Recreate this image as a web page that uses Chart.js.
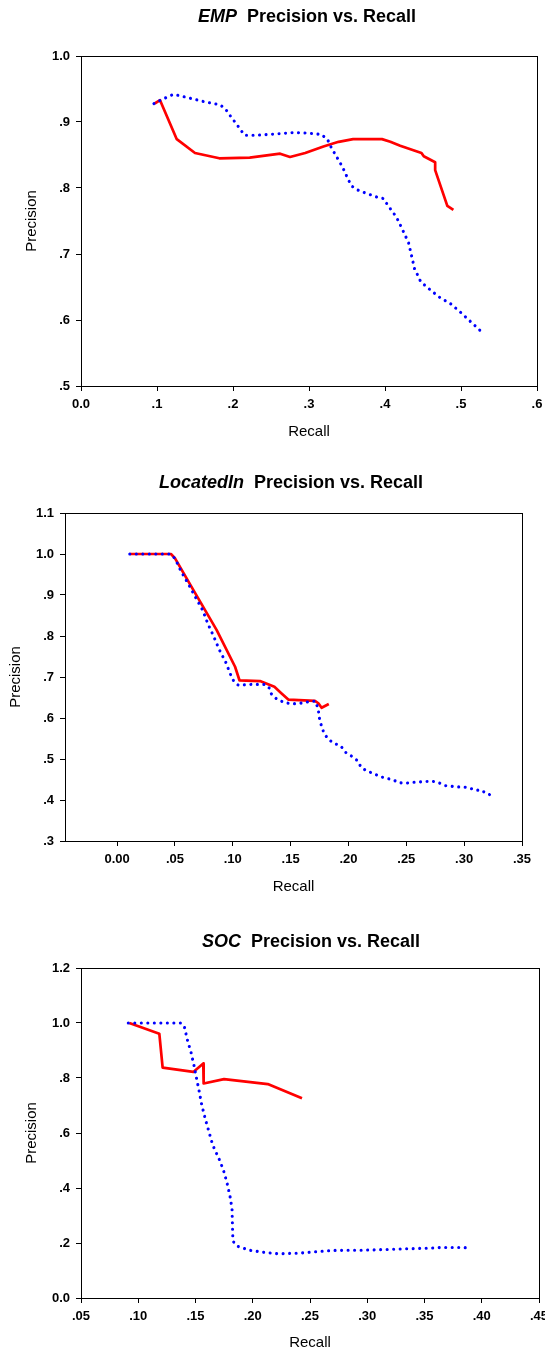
<!DOCTYPE html>
<html>
<head>
<meta charset="utf-8">
<script src="https://cdn.jsdelivr.net/npm/chart.js@4.4.1/dist/chart.umd.min.js"></script>
<style>
  body { margin: 0; width: 545px; height: 1357px; overflow: hidden; background: #fff; position: relative; }
  .panel { position: absolute; left: 0; width: 560px; }
  .panel canvas { position: absolute; left: 0; top: 0; }
  .ttl { position: absolute; width: 400px; text-align: center; white-space: pre;
         font: bold 18px "Liberation Sans", Arial, sans-serif; line-height: 20px; color: #000; z-index: 2; }
</style>
</head>
<body>

<div class="panel" style="top:0;height:460px">
  <canvas id="chart1" width="560" height="460"></canvas>
  <div class="ttl" style="left:107px;top:6px"><i>EMP</i>  Precision vs. Recall</div>
</div>
<div class="panel" style="top:460px;height:460px">
  <canvas id="chart2" width="560" height="460"></canvas>
  <div class="ttl" style="left:91px;top:12px"><i>LocatedIn</i>  Precision vs. Recall</div>
</div>
<div class="panel" style="top:920px;height:437px">
  <canvas id="chart3" width="560" height="437"></canvas>
  <div class="ttl" style="left:111px;top:11px"><i>SOC</i>  Precision vs. Recall</div>
</div>

<script>
// ---- EMP ----
const empRedRecall = [0.097, 0.104, 0.126, 0.150, 0.182, 0.222, 0.262, 0.275, 0.295, 0.319, 0.339, 0.358, 0.374, 0.396, 0.407, 0.420, 0.448, 0.451, 0.466, 0.466, 0.482, 0.490];
const empRedPrecision = [0.928, 0.933, 0.874, 0.853, 0.845, 0.846, 0.852, 0.847, 0.853, 0.863, 0.870, 0.874, 0.874, 0.874, 0.870, 0.864, 0.853, 0.848, 0.839, 0.827, 0.773, 0.767];
const empBlueRecall = [0.096, 0.106, 0.122, 0.140, 0.165, 0.183, 0.190, 0.196, 0.209, 0.215, 0.232, 0.258, 0.280, 0.300, 0.317, 0.325, 0.329, 0.334, 0.344, 0.352, 0.356, 0.364, 0.373, 0.390, 0.398, 0.403, 0.415, 0.423, 0.431, 0.435, 0.439, 0.443, 0.447, 0.456, 0.471, 0.487, 0.501, 0.515, 0.529];
const empBluePrecision = [0.928, 0.934, 0.942, 0.937, 0.930, 0.926, 0.920, 0.910, 0.890, 0.880, 0.880, 0.882, 0.884, 0.883, 0.881, 0.872, 0.862, 0.852, 0.832, 0.812, 0.803, 0.797, 0.793, 0.786, 0.784, 0.775, 0.756, 0.737, 0.717, 0.697, 0.677, 0.668, 0.658, 0.649, 0.635, 0.624, 0.610, 0.595, 0.580];
const empXTicks = [0, 0.1, 0.2, 0.3, 0.4, 0.5, 0.6];
const empXLabels = ['0.0', '.1', '.2', '.3', '.4', '.5', '.6'];
const empYTicks = [0.5, 0.6, 0.7, 0.8, 0.9, 1.0];
const empYLabels = ['.5', '.6', '.7', '.8', '.9', '1.0'];

// ---- LocatedIn ----
const locRedRecall = [0.011, 0.0466, 0.050, 0.066, 0.086, 0.102, 0.1058, 0.1235, 0.136, 0.1422, 0.148, 0.171, 0.174, 0.1768, 0.183];
const locRedPrecision = [1.0, 1.0, 0.990, 0.912, 0.815, 0.725, 0.692, 0.690, 0.676, 0.660, 0.645, 0.642, 0.636, 0.625, 0.634];
const locBlueRecall = [0.011, 0.0457, 0.050, 0.0552, 0.0616, 0.0679, 0.074, 0.0783, 0.0835, 0.0883, 0.0939, 0.0984, 0.101, 0.1048, 0.1163, 0.1278, 0.1316, 0.1333, 0.138, 0.1437, 0.1494, 0.155, 0.161, 0.166, 0.1717, 0.173, 0.1745, 0.1751, 0.1768, 0.1788, 0.1826, 0.1877, 0.1933, 0.1976, 0.2027, 0.2082, 0.2108, 0.2157, 0.2214, 0.2275, 0.233, 0.2387, 0.2439, 0.2497, 0.2555, 0.2667, 0.2724, 0.278, 0.2837, 0.2935, 0.2992, 0.3048, 0.310, 0.3151, 0.3188, 0.3243];
const locBluePrecision = [1.0, 1.0, 0.9895, 0.9585, 0.927, 0.894, 0.863, 0.831, 0.799, 0.767, 0.736, 0.704, 0.689, 0.680, 0.682, 0.682, 0.673, 0.659, 0.646, 0.639, 0.635, 0.635, 0.637, 0.640, 0.641, 0.628, 0.611, 0.595, 0.580, 0.563, 0.548, 0.538, 0.532, 0.516, 0.507, 0.495, 0.480, 0.471, 0.465, 0.457, 0.453, 0.449, 0.442, 0.441, 0.443, 0.445, 0.446, 0.442, 0.435, 0.432, 0.432, 0.429, 0.424, 0.424, 0.416, 0.411];
const locXTicks = [0, 0.05, 0.10, 0.15, 0.20, 0.25, 0.30, 0.35];
const locXLabels = ['0.00', '.05', '.10', '.15', '.20', '.25', '.30', '.35'];
const locYTicks = [0.3, 0.4, 0.5, 0.6, 0.7, 0.8, 0.9, 1.0, 1.1];
const locYLabels = ['.3', '.4', '.5', '.6', '.7', '.8', '.9', '1.0', '1.1'];

// ---- SOC ----
const socRedRecall = [0.0922, 0.1184, 0.1213, 0.1481, 0.1568, 0.1571, 0.1749, 0.2131, 0.243];
const socRedPrecision = [1.0, 0.961, 0.838, 0.822, 0.853, 0.780, 0.796, 0.778, 0.726];
const socBlueRecall = [0.0913, 0.1371, 0.1402, 0.1428, 0.1461, 0.1487, 0.151, 0.1533, 0.1554, 0.1583, 0.1615, 0.1647, 0.167, 0.1699, 0.1743, 0.1775, 0.1801, 0.1819, 0.1822, 0.1825, 0.1828, 0.1871, 0.1926, 0.1982, 0.2097, 0.2218, 0.240, 0.252, 0.270, 0.2976, 0.3279, 0.358, 0.3658, 0.3885];
const socBluePrecision = [1.0, 1.0, 0.988, 0.940, 0.893, 0.845, 0.797, 0.750, 0.703, 0.655, 0.608, 0.561, 0.537, 0.513, 0.466, 0.419, 0.371, 0.324, 0.277, 0.229, 0.206, 0.1875, 0.180, 0.173, 0.166, 0.161, 0.163, 0.167, 0.173, 0.174, 0.178, 0.182, 0.184, 0.183];
const socXTicks = [0.05, 0.10, 0.15, 0.20, 0.25, 0.30, 0.35, 0.40, 0.45];
const socXLabels = ['.05', '.10', '.15', '.20', '.25', '.30', '.35', '.40', '.45'];
const socYTicks = [0, 0.2, 0.4, 0.6, 0.8, 1.0, 1.2];
const socYLabels = ['0.0', '.2', '.4', '.6', '.8', '1.0', '1.2'];

Chart.defaults.font.family = '"Liberation Sans", Arial, sans-serif';
Chart.defaults.color = '#000';

function toPoints(xs, ys) {
    return xs.map((x, i) => ({ x: x, y: ys[i] }));
}

// plain box round the plot area
const frame = {
    id: 'frame',
    beforeDatasetsDraw(chart) {
        const { ctx, chartArea: a } = chart;
        ctx.save();
        ctx.strokeStyle = '#000';
        ctx.lineWidth = 1;
        ctx.strokeRect(Math.round(a.left) + 0.5, Math.round(a.top) + 0.5,
                       Math.round(a.right - a.left), Math.round(a.bottom - a.top));
        ctx.restore();
    }
};

function axis(min, max, ticks, labels, extra) {
    return Object.assign({
        type: 'linear',
        min: min,
        max: max,
        afterBuildTicks: s => { s.ticks = ticks.map(v => ({ value: v })); },
        ticks: {
            callback: (v, i) => labels[i],
            font: { size: 13, weight: 'bold' },
            padding: 6,
            autoSkip: false,
            maxRotation: 0
        },
        grid: { display: true, drawOnChartArea: false, drawTicks: true, tickLength: 5, color: '#000', lineWidth: 1 },
        border: { display: true, color: '#000', width: 1 }
    }, extra);
}

function createChart(id, p) {
    const ctx = document.getElementById(id).getContext('2d');
    const h = document.getElementById(id).height;
    return new Chart(ctx, {
        type: 'scatter',
        data: {
            datasets: [{
                data: toPoints(p.blueX, p.blueY),
                borderColor: '#0000ff',
                borderWidth: 3.1,
                borderDash: [0.01, 6.5],
                borderCapStyle: 'round',
                showLine: true,
                pointRadius: 0,
                tension: 0
            }, {
                data: toPoints(p.redX, p.redY),
                borderColor: '#ff0000',
                borderWidth: 2.7,
                borderJoinStyle: 'round',
                showLine: true,
                pointRadius: 0,
                tension: 0
            }]
        },
        options: {
            responsive: false,
            animation: false,
            events: [],
            layout: { padding: { left: 0, top: p.top, right: 560 - p.right, bottom: 0 } },
            plugins: { legend: { display: false }, tooltip: { enabled: false } },
            scales: {
                x: axis(p.xMin, p.xMax, p.xTicks, p.xLabels, {
                    position: 'bottom',
                    afterFit: s => { s.height = h - p.bottom; },
                    title: { display: true, text: 'Recall', font: { size: 15 }, padding: { top: 0, bottom: p.xTitlePad } }
                }),
                y: axis(p.yMin, p.yMax, p.yTicks, p.yLabels, {
                    position: 'left',
                    afterFit: s => { s.width = p.left; },
                    title: { display: true, text: 'Precision', font: { size: 15 }, padding: { top: p.yTitlePad, bottom: 0 } }
                })
            }
        },
        plugins: [frame]
    });
}

createChart('chart1', {
    redX: empRedRecall, redY: empRedPrecision, blueX: empBlueRecall, blueY: empBluePrecision,
    xMin: 0, xMax: 0.6, xTicks: empXTicks, xLabels: empXLabels,
    yMin: 0.5, yMax: 1.0, yTicks: empYTicks, yLabels: empYLabels,
    left: 81, right: 537, top: 56, bottom: 386, xTitlePad: 19, yTitlePad: 23
});
createChart('chart2', {
    redX: locRedRecall, redY: locRedPrecision, blueX: locBlueRecall, blueY: locBluePrecision,
    xMin: -0.045, xMax: 0.35, xTicks: locXTicks, xLabels: locXLabels,
    yMin: 0.3, yMax: 1.1, yTicks: locYTicks, yLabels: locYLabels,
    left: 65, right: 522, top: 53, bottom: 381, xTitlePad: 24, yTitlePad: 7
});
createChart('chart3', {
    redX: socRedRecall, redY: socRedPrecision, blueX: socBlueRecall, blueY: socBluePrecision,
    xMin: 0.05, xMax: 0.45, xTicks: socXTicks, xLabels: socXLabels,
    yMin: 0, yMax: 1.2, yTicks: socYTicks, yLabels: socYLabels,
    left: 81, right: 539, top: 48, bottom: 378, xTitlePad: 5, yTitlePad: 23
});
</script>
</body>
</html>
